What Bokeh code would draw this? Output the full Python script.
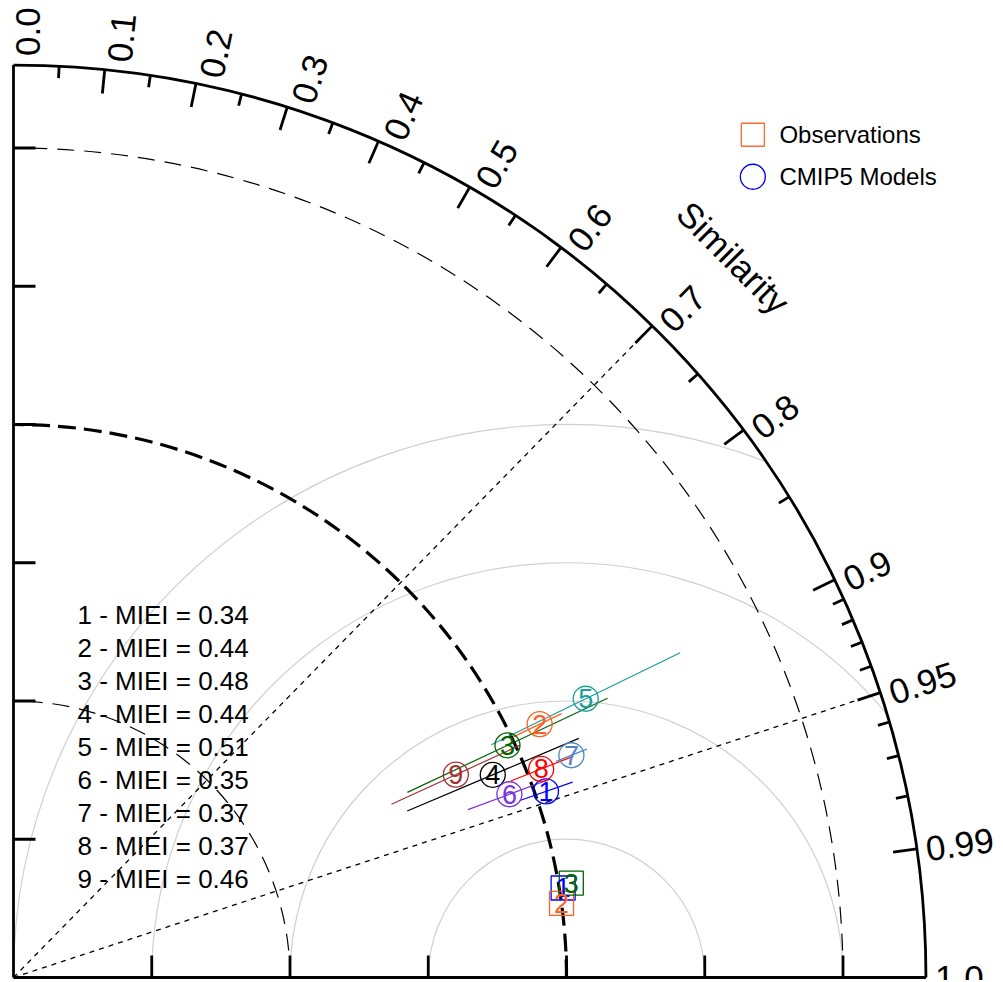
import numpy as np
from bokeh.plotting import figure
from bokeh.models import Range1d, ColumnDataSource
from bokeh.embed import file_html
from bokeh.resources import INLINE
from bokeh.core.properties import value

# ---------------- data (normalised standard deviation & correlation) ----------------
model_ids = ["1", "2", "3", "4", "5", "6", "7", "8", "9"]
model_sd = [1.020, 1.056, 0.987, 0.941, 1.151, 0.956, 1.086, 1.026, 0.880]
model_cor = [0.944, 0.901, 0.905, 0.921, 0.899, 0.938, 0.929, 0.930, 0.909]
model_sd_lo = [0.970, 1.003, 0.787, 0.773, 0.961, 0.876, 1.056, 0.967, 0.752]
model_sd_hi = [1.071, 1.100, 1.187, 1.110, 1.341, 1.034, 1.116, 1.088, 1.008]
model_miei = [0.34, 0.44, 0.48, 0.44, 0.51, 0.35, 0.37, 0.37, 0.46]
model_colors = ["#0000FF", "#FF6020", "#006400", "#000000", "#1B9E9E",
                "#7B35DC", "#4F86BF", "#FF0000", "#A33333"]

obs_ids = ["1", "2", "3"]
obs_sd = [1.007, 1.000, 1.023]
obs_cor = [0.987, 0.991, 0.986]
obs_colors = ["#0000FF", "#FF6020", "#006400"]

cor_major = [0.1, 0.2, 0.3, 0.4, 0.5, 0.6, 0.7, 0.8, 0.9, 0.95, 0.99]
cor_minor = [0.05, 0.15, 0.25, 0.35, 0.45, 0.55, 0.65, 0.75, 0.85,
             0.91, 0.92, 0.93, 0.94, 0.96, 0.97, 0.98]
cor_labels = [0.0, 0.1, 0.2, 0.3, 0.4, 0.5, 0.6, 0.7, 0.8, 0.9, 0.95, 0.99, 1.0]
cor_label_text = ["0.0", "0.1", "0.2", "0.3", "0.4", "0.5", "0.6", "0.7", "0.8",
                  "0.9", "0.95", "0.99", "1.0"]
sd_ticks = [0.25, 0.5, 0.75, 1.0, 1.25, 1.5]
sd_dashed = [0.5, 1.5]
sd_ref = 1.0
rms_arcs = [0.25, 0.5, 0.75, 1.0]
cor_dotted = [0.7, 0.95]
MAXSD = 1.65

FONT = "Liberation Sans"
S = 553.0  # pixels per unit
OX, OY = 13, 977  # origin position on the canvas (px from top-left)


def px(v):
    return v / S


W, H = 997, 980
p = figure(width=W, height=H, x_range=Range1d(-OX / S, (W - OX) / S),
           y_range=Range1d(-(H - OY) / S, OY / S), output_backend="svg",
           toolbar_location=None, min_border=0, x_axis_type=None, y_axis_type=None)
p.grid.visible = False
p.outline_line_color = None
p.background_fill_color = "white"

# RMS arcs centred on the reference point
for rho in rms_arcs:
    if sd_ref + rho <= MAXSD:
        a0 = 0.0
    else:
        xi = (MAXSD ** 2 - rho ** 2 + sd_ref ** 2) / (2 * sd_ref)
        yi = np.sqrt(MAXSD ** 2 - xi ** 2)
        a0 = np.arctan2(yi, xi - sd_ref)
    p.arc(x=sd_ref, y=0, radius=rho, start_angle=a0, end_angle=np.pi,
          line_color="#D0D0D0", line_width=1.2)

# dashed sd arcs
for r in sd_dashed:
    p.arc(x=0, y=0, radius=r, start_angle=0, end_angle=np.pi / 2,
          line_color="black", line_width=1.2, line_dash="17 10")
p.arc(x=0, y=0, radius=sd_ref, start_angle=0, end_angle=np.pi / 2,
      line_color="black", line_width=3.2, line_dash="18 8")

# dotted correlation rays
for c in cor_dotted:
    th = np.arccos(c)
    rr = MAXSD - px(24)
    p.line([0, rr * np.cos(th)], [0, rr * np.sin(th)], line_color="black",
           line_width=1.3, line_dash="5 5")

# axes and outer arc
p.line([0, 0], [0, MAXSD], line_color="black", line_width=2.8)
p.line([0, MAXSD], [0, 0], line_color="black", line_width=2.8)
p.arc(x=0, y=0, radius=MAXSD, start_angle=0, end_angle=np.pi / 2,
      line_color="black", line_width=2.8)

# sd ticks
L = px(22)
p.segment(x0=[0] * len(sd_ticks), y0=sd_ticks, x1=[L] * len(sd_ticks), y1=sd_ticks,
          line_color="black", line_width=2.8)
p.segment(x0=sd_ticks, y0=[0] * len(sd_ticks), x1=sd_ticks, y1=[L] * len(sd_ticks),
          line_color="black", line_width=2.8)

# correlation ticks
for lst, ln in ((cor_major, px(24)), (cor_minor, px(12))):
    th = np.arccos(np.array(lst))
    p.segment(x0=MAXSD * np.cos(th), y0=MAXSD * np.sin(th),
              x1=(MAXSD - ln) * np.cos(th), y1=(MAXSD - ln) * np.sin(th),
              line_color="black", line_width=2.8)

# correlation labels
th = np.arccos(np.array(cor_labels))
rl = MAXSD + px(9)
off = px(14) * np.sin(th)
lab_src = ColumnDataSource(dict(x=rl * np.cos(th) + off * np.sin(th),
                                y=rl * np.sin(th) - off * np.cos(th),
                                a=th, t=cor_label_text))
p.text(x="x", y="y", text="t", angle="a", source=lab_src, text_align="left",
       text_baseline="middle", text_font=value(FONT), text_font_size="35px",
       text_color="black")

p.text(x=[1.841 * np.cos(np.pi / 4)], y=[1.841 * np.sin(np.pi / 4)], text=["Similarity"],
       angle=-np.pi / 4, text_align="center", text_baseline="middle",
       text_font=value(FONT), text_font_size="35px", text_color="black")

# model sd ranges
mc = np.array(model_cor)
ms = np.sin(np.arccos(mc))
lo = np.array(model_sd_lo)
hi = np.array(model_sd_hi)
p.segment(x0=lo * mc, y0=lo * ms, x1=hi * mc, y1=hi * ms, line_color=model_colors,
          line_width=1.2)

# models
sd = np.array(model_sd)
msrc = ColumnDataSource(dict(x=sd * mc, y=sd * ms, t=model_ids, c=model_colors))
p.scatter(x="x", y="y", source=msrc, marker="circle", size=25, fill_color=None,
          line_color="c", line_width=1.3)
p.text(x="x", y="y", text="t", source=msrc, text_color="c", text_align="center",
       text_baseline="middle", text_font=value(FONT), text_font_size="27px")

# observations
oc = np.array(obs_cor)
osd = np.array(obs_sd)
osrc = ColumnDataSource(dict(x=osd * oc, y=osd * np.sin(np.arccos(oc)), t=obs_ids,
                             c=obs_colors))
p.scatter(x="x", y="y", source=osrc, marker="square", size=24, fill_color=None,
          line_color="c", line_width=1.3)
p.text(x="x", y="y", text="t", source=osrc, text_color="c", text_align="center",
       text_baseline="middle", text_font=value(FONT), text_font_size="27px")

# MIEI list
miei_text = [f"{i} - MIEI = {v:.2f}" for i, v in zip(model_ids, model_miei)]
p.text(x=[0.1157] * len(miei_text), y=[0.6558 - 0.0598 * k for k in range(len(miei_text))],
       text=miei_text, text_align="left", text_baseline="middle",
       text_font=value(FONT), text_font_size="26px", text_color="black")

# legend
p.scatter(x=[1.337], y=[1.524], marker="square", size=23, fill_color=None,
          line_color="#FF6A30", line_width=1.3)
p.scatter(x=[1.337], y=[1.448], marker="circle", size=25, fill_color=None,
          line_color="#0000FF", line_width=1.3)
p.text(x=[1.385, 1.385], y=[1.524, 1.448], text=["Observations", "CMIP5 Models"],
       text_align="left", text_baseline="middle", text_font=value(FONT),
       text_font_size="24px", text_color="black")

open("out.html", "w").write(file_html(p, INLINE))
